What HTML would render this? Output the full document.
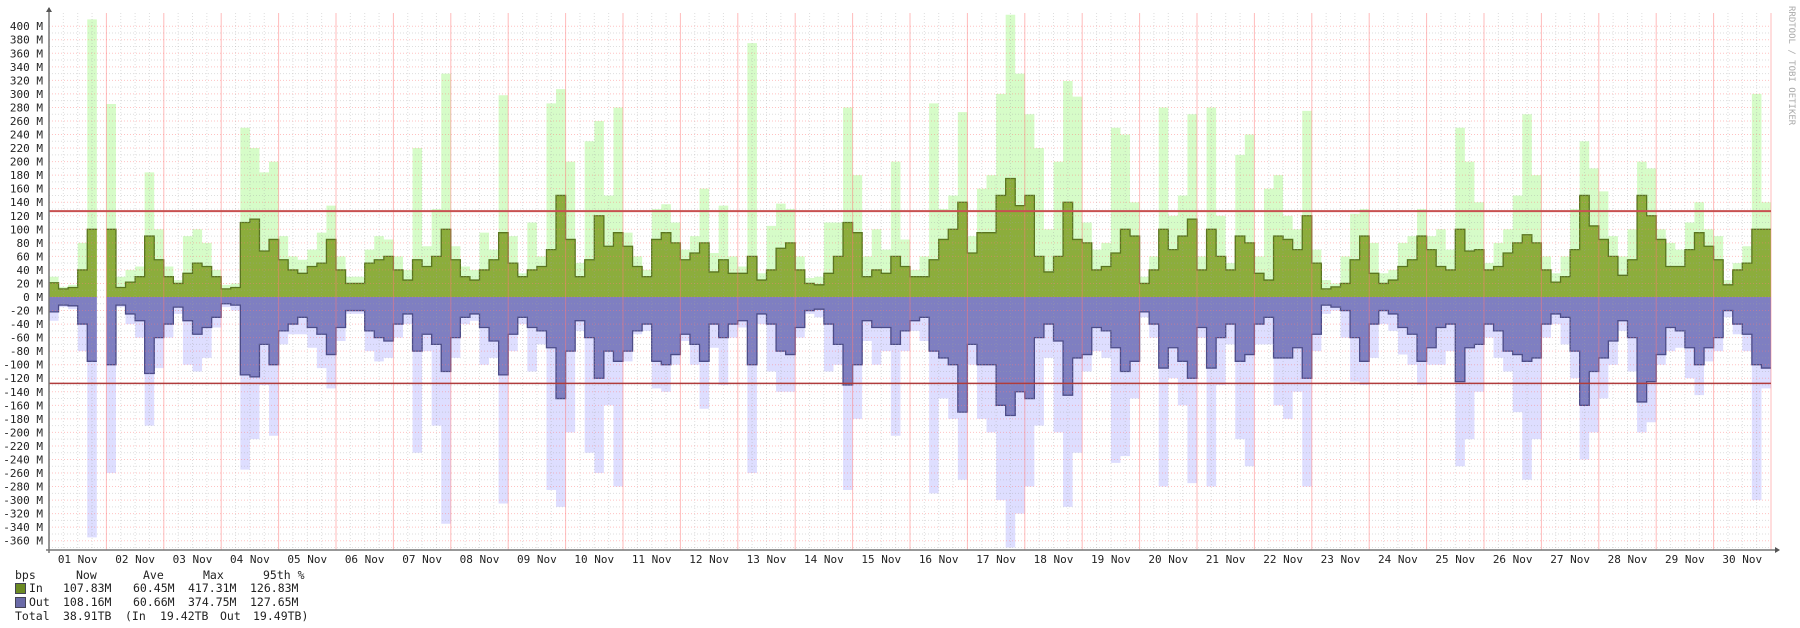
<!DOCTYPE html>
<html><head><meta charset="utf-8"><style>
html,body{margin:0;padding:0;background:#fff;}
#wrap{position:relative;width:1800px;height:628px;overflow:hidden;font-family:"DejaVu Sans Mono","Liberation Mono",monospace;}
svg{position:absolute;left:0;top:0}
.lg{position:absolute;font-size:11.5px;color:#222;white-space:pre;line-height:14px}
</style></head><body>
<div id="wrap">
<svg id="chart" width="1800" height="628"></svg>
<div>
<span class="lg" style="left:15px;top:568px">bps</span><span class="lg" style="left:76px;top:568px">Now</span><span class="lg" style="left:143px;top:568px">Ave</span><span class="lg" style="left:203px;top:568px">Max</span><span class="lg" style="left:263px;top:568px">95th %</span>
</div>
<div style="position:absolute;left:15px;top:583px;width:9px;height:9px;background:#6b8a23;border:1px solid #445"></div>
<div>
<span class="lg" style="left:29px;top:581px">In</span><span class="lg" style="left:63px;top:581px">107.83M</span><span class="lg" style="left:133px;top:581px">60.45M</span><span class="lg" style="left:188px;top:581px">417.31M</span><span class="lg" style="left:250px;top:581px">126.83M</span>
</div>
<div style="position:absolute;left:15px;top:597px;width:9px;height:9px;background:#6a6aa8;border:1px solid #445"></div>
<div>
<span class="lg" style="left:29px;top:595px">Out</span><span class="lg" style="left:63px;top:595px">108.16M</span><span class="lg" style="left:133px;top:595px">60.66M</span><span class="lg" style="left:188px;top:595px">374.75M</span><span class="lg" style="left:250px;top:595px">127.65M</span>
</div>
<div>
<span class="lg" style="left:15px;top:609px">Total</span><span class="lg" style="left:63px;top:609px">38.91TB</span><span class="lg" style="left:125px;top:609px">(In</span><span class="lg" style="left:160px;top:609px">19.42TB</span><span class="lg" style="left:220px;top:609px">Out</span><span class="lg" style="left:253px;top:609px">19.49TB)</span>
</div>
<div style="position:absolute;left:1786px;top:6px;writing-mode:vertical-rl;font-size:9px;color:#aaa;font-family:'DejaVu Sans Mono',monospace">RRDTOOL / TOBI OETIKER</div>
</div>
<script>
const days = ["01","02","03","04","05","06","07","08","09","10","11","12","13","14","15","16","17","18","19","20","21","22","23","24","25","26","27","28","29","30"];
const yTicks = [400,380,360,340,320,300,280,260,240,220,200,180,160,140,120,100,80,60,40,20,0,-20,-40,-60,-80,-100,-120,-140,-160,-180,-200,-220,-240,-260,-280,-300,-320,-340,-360];
const inAvg = [21,12,14,40,100,null, 100,14,22,30,90,55, 30,20,35,50,45,30, 12,14,110,115,68,85, 55,40,35,45,50,85,
 40,20,20,50,55,60, 40,25,55,45,60,100, 55,30,25,40,55,95, 50,30,40,45,70,150, 85,30,55,120,75,95,
 75,45,30,85,95,80, 55,65,80,37,55,35, 35,60,25,40,72,80, 40,20,18,35,60,110, 95,30,40,35,60,45,
 30,30,55,85,100,140, 65,95,95,150,175,135, 150,60,37,60,140,85, 80,40,45,65,100,90, 20,40,100,70,90,115,
 40,100,60,40,90,80, 35,25,90,85,70,120, 50,12,15,20,55,90, 35,20,25,45,55,90, 70,45,40,100,68,70,
 40,45,65,80,92,80, 40,22,30,70,150,105, 85,60,32,55,150,120, 85,45,45,70,95,75, 55,18,40,50,100,100];
const inMax = [30,15,18,80,410,null, 285,30,40,45,184,100, 45,25,90,100,80,40, 18,20,250,220,184,200, 90,60,55,70,95,135,
 60,30,30,70,90,85, 60,40,220,75,130,330, 75,45,40,95,70,298, 90,35,110,60,286,307, 200,50,230,260,150,280,
 95,60,40,130,137,110, 70,90,160,65,135,60, 45,375,35,105,138,130, 60,28,30,110,110,280, 180,60,100,70,200,85,
 40,60,286,130,150,273, 90,160,180,300,417,330, 270,220,100,200,319,296, 110,70,80,250,240,140, 30,60,280,120,150,270,
 60,280,120,50,210,240, 60,160,180,120,100,275, 70,25,20,60,123,130, 80,35,40,80,90,130, 90,100,70,250,200,140,
 50,80,100,150,270,180, 60,35,60,130,230,190, 156,90,60,100,200,190, 100,80,70,110,140,100, 90,25,50,75,300,140];
const outAvg = [22,12,13,40,95,null, 100,12,25,35,113,60, 40,15,35,55,45,30, 10,12,115,118,70,100, 50,40,30,45,55,85,
 45,20,20,50,60,65, 40,25,80,55,70,110, 60,30,25,45,65,115, 55,30,45,50,75,150, 80,35,60,120,80,95,
 80,50,40,95,100,85, 55,70,95,40,60,40, 35,100,25,40,80,85, 45,20,18,40,70,130, 100,35,45,45,70,50,
 35,30,80,90,100,170, 70,100,100,160,175,140, 150,60,40,65,145,90, 85,45,50,75,110,95, 22,40,105,75,95,120,
 45,105,60,40,95,85, 40,30,90,90,75,120, 55,12,15,20,60,95, 40,20,25,45,55,95, 75,45,40,125,75,70,
 40,50,80,85,95,90, 40,25,30,80,160,110, 90,65,35,60,155,125, 85,45,50,75,100,75, 60,20,40,55,100,105];
const outMax = [35,15,18,80,355,null, 260,15,40,60,190,105, 60,25,100,110,90,45, 15,20,255,210,130,205, 70,55,55,75,105,135,
 65,25,25,80,95,90, 60,40,230,80,190,335, 90,40,35,100,90,305, 80,40,110,70,285,310, 200,50,230,260,160,280,
 95,55,50,135,140,100, 65,100,165,75,130,60, 45,260,40,110,140,140, 60,25,30,110,100,285, 180,65,100,80,205,80,
 50,65,290,150,180,270, 100,180,200,300,370,320, 280,190,90,200,310,230, 110,80,90,245,235,150, 30,60,280,120,160,275,
 60,280,130,70,210,250, 70,70,160,180,140,280, 80,25,20,60,125,130, 90,40,50,85,100,130, 100,100,80,250,210,140,
 60,90,110,170,270,210, 60,40,70,120,240,200, 150,100,50,110,200,185, 100,80,75,120,145,95, 80,30,55,80,300,135];
const p95In = 126.83, p95Out = 127.65;

const NS="http://www.w3.org/2000/svg";
const svg=document.getElementById('chart');
const X0=49, X1=1771, Y0=297, PXM=0.677, TOP=13, BOT=550;
const nB=inAvg.length;
function xs(i){return X0+(X1-X0)*i/nB;}
function ys(v){return Y0-v*PXM;}
function mk(tag,attrs){const e=document.createElementNS(NS,tag);for(const k in attrs)e.setAttribute(k,attrs[k]);svg.appendChild(e);return e;}
function stepPath(arr,sign,closed){
  let d='';let open=false;
  for(let i=0;i<arr.length;i++){
    const v=arr[i];
    if(v===null){ if(open&&closed){d+='L'+xs(i)+','+Y0+'Z';} open=false; continue;}
    const y=ys(sign*v);
    if(!open){ d+= closed? ('M'+xs(i)+','+Y0+'L'+xs(i)+','+y) : ('M'+xs(i)+','+y); open=true;}
    else d+='L'+xs(i)+','+y;
    d+='L'+xs(i+1)+','+y;
  }
  if(open&&closed)d+='L'+xs(arr.length)+','+Y0+'Z';
  return d;
}
let e;
e=mk('path',{d:stepPath(inMax,1,true),fill:'#d6fcc8'});


e=mk('path',{d:stepPath(outMax,-1,true),fill:'#dedeff'});


e=mk('path',{d:stepPath(inAvg,1,true),fill:'#8cad3c'});


e=mk('path',{d:stepPath(outAvg,-1,true),fill:'#7f7fc1'});


e=mk('path',{d:stepPath(inAvg,1,false),fill:'none',stroke:'#5a7520','stroke-width':1.3});


e=mk('path',{d:stepPath(outAvg,-1,false),fill:'none',stroke:'#4c4c88','stroke-width':1.3});


for(let v=400;v>=-370;v-=10){
  const major=(v%20===0);
  e=mk('line',{x1:X0,x2:X1,y1:ys(v),y2:ys(v),stroke:major?'rgba(255,120,120,0.45)':'rgba(160,160,160,0.35)','stroke-width':1,'stroke-dasharray':'1,2'});
  
  
}
for(let h=1;h<=120;h++){
  const major=(h%4===0);
  const x=X0+(X1-X0)*h/120;
  e=mk('line',{x1:x,x2:x,y1:TOP,y2:BOT,stroke:major?'rgba(255,120,120,0.5)':'rgba(160,160,160,0.35)','stroke-width':1,'stroke-dasharray':major?'':'1,2'});
  
  
}
e=mk('line',{x1:X0,x2:X1,y1:ys(p95In),y2:ys(p95In),stroke:'#c85050','stroke-width':2});


e=mk('line',{x1:X0,x2:X1,y1:ys(-p95Out),y2:ys(-p95Out),stroke:'#b03c3c','stroke-width':1.5});


e=mk('line',{x1:X0,x2:X0,y1:8,y2:BOT+3,stroke:'#777','stroke-width':1.5});


e=mk('path',{d:'M'+(X0-3)+',12L'+X0+',7L'+(X0+3)+',12Z',fill:'#555'});


e=mk('line',{x1:X0-3,x2:X1+6,y1:BOT,y2:BOT,stroke:'#777','stroke-width':1.5});


e=mk('path',{d:'M'+(X1+4)+','+(BOT-3)+'L'+(X1+9)+','+BOT+'L'+(X1+4)+','+(BOT+3)+'Z',fill:'#555'});


yTicks.forEach(v=>{
  const t=mk('text',{x:43,y:ys(v)+4,'text-anchor':'end','font-size':'11',fill:'#222','font-family':'DejaVu Sans Mono, monospace'});
  t.textContent=v+' M';
  
  
});
days.forEach((d,i)=>{
  const t=mk('text',{x:X0+(X1-X0)*(i+0.5)/30,y:563,'text-anchor':'middle','font-size':'11',fill:'#222','font-family':'DejaVu Sans Mono, monospace'});
  t.textContent=d+' Nov';
  
  
});
</script>
</body></html>
